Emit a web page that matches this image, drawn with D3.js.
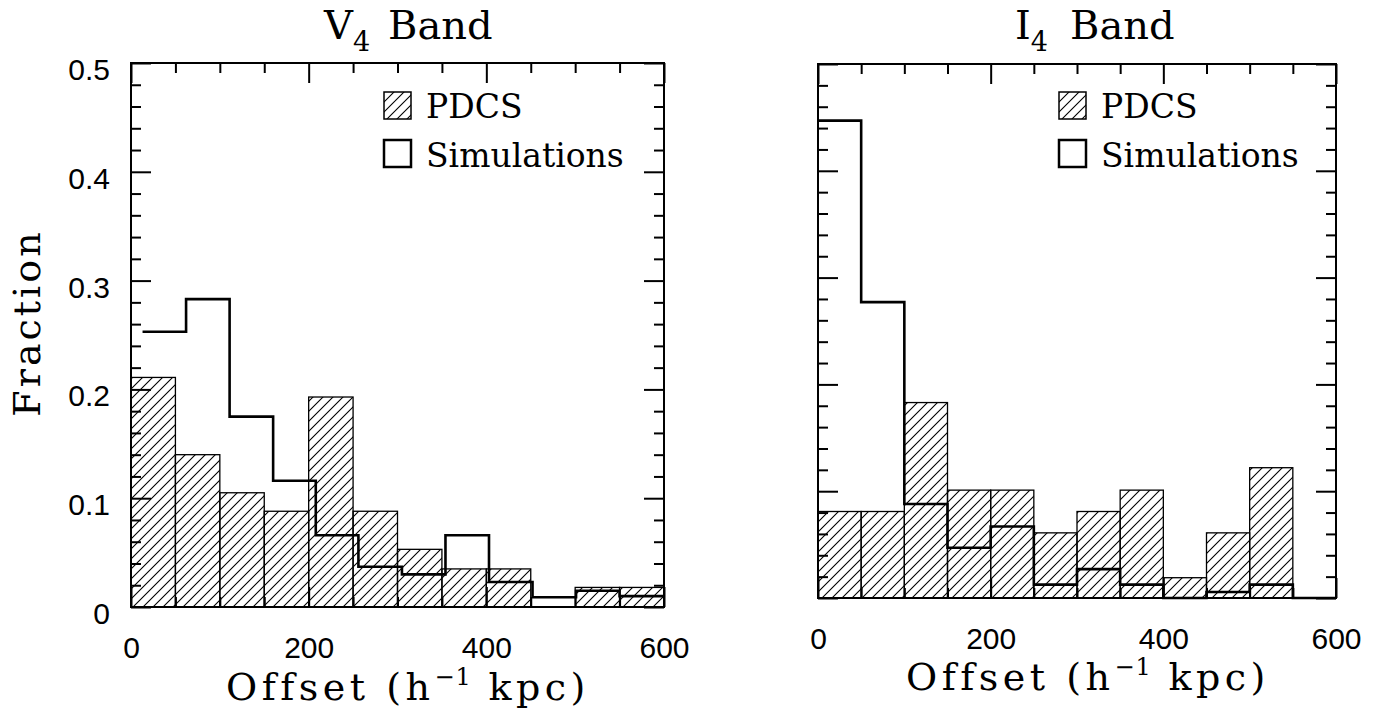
<!DOCTYPE html>
<html>
<head>
<meta charset="utf-8">
<script src="https://cdn.jsdelivr.net/npm/d3@7"></script>
<style>
  body { margin: 0; background: #fff; }
</style>
</head>
<body>
<svg width="1390" height="725"></svg>
<script>
// bin edges (h^-1 kpc)
var binEdges = [0, 50, 100, 150, 200, 250, 300, 350, 400, 450, 500, 550, 600];

// V4 band
var vPdcs = [0.211, 0.140, 0.105, 0.088, 0.193, 0.088, 0.053, 0.035, 0.035, 0, 0.018, 0.018];
var vSimEdges = [13, 62, 111, 160, 208, 256, 305, 354, 403, 452, 501, 550, 600];
var vSim = [0.253, 0.283, 0.175, 0.116, 0.066, 0.037, 0.030, 0.066, 0.023, 0.009, 0.015, 0.010];

// I4 band
var iPdcs = [0.081, 0.081, 0.183, 0.101, 0.101, 0.061, 0.081, 0.101, 0.019, 0.061, 0.122, 0];
var iSim = [0.447, 0.277, 0.088, 0.047, 0.067, 0.0125, 0.027, 0.0125, 0, 0.0056, 0.0125, 0];

var xMajor = [0, 200, 400, 600];
var xMinor = [50, 100, 150, 250, 300, 350, 450, 500, 550];
var yMajor = [0, 0.1, 0.2, 0.3, 0.4, 0.5];
var yMinor = [0.02, 0.04, 0.06, 0.08, 0.12, 0.14, 0.16, 0.18, 0.22, 0.24, 0.26, 0.28,
              0.32, 0.34, 0.36, 0.38, 0.42, 0.44, 0.46, 0.48];
var legendLabels = ["PDCS", "Simulations"];

var svg = d3.select("svg");
var serif = "'DejaVu Serif', serif";
var sans = "'Liberation Sans', Arial, sans-serif";

// hatch fill for the PDCS bars
svg.append("defs").append("pattern")
  .attr("id", "hatch")
  .attr("patternUnits", "userSpaceOnUse")
  .attr("width", 10)
  .attr("height", 10)
  .append("path")
  .attr("d", "M0,10 L10,0 M-2,2 L2,-2 M8,12 L12,8")
  .attr("stroke", "#000")
  .attr("stroke-width", 1.1);

function panel(o) {
  var x = d3.scaleLinear().domain([0, 600]).range([o.left, o.right]);
  var y = d3.scaleLinear().domain([0, 0.5]).range([o.bottom, o.top]);
  var g = svg.append("g");

  var bars = o.pdcs
    .map(function (v, i) { return { x0: binEdges[i], x1: binEdges[i + 1], v: v }; })
    .filter(function (d) { return d.v > 0; });

  g.selectAll(".pdcs")
    .data(bars)
    .enter()
    .append("rect")
    .attr("x", function (d) { return x(d.x0); })
    .attr("width", function (d) { return x(d.x1) - x(d.x0); })
    .attr("y", function (d) { return y(d.v); })
    .attr("height", function (d) { return y(0) - y(d.v); })
    .attr("fill", "url(#hatch)")
    .attr("stroke", "#000")
    .attr("stroke-width", 1.3);

  // simulations as a step line
  var pts = o.sim.map(function (v, i) { return [o.simEdges[i], v]; });
  pts.push([o.simEdges[o.sim.length], o.sim[o.sim.length - 1]]);
  var line = d3.line()
    .x(function (d) { return x(d[0]); })
    .y(function (d) { return y(d[1]); })
    .curve(d3.curveStepAfter);
  g.append("path")
    .attr("d", line(pts))
    .attr("fill", "none")
    .attr("stroke", "#000")
    .attr("stroke-width", 2.6);

  function ticks(axis, tr) {
    var a = g.append("g").attr("transform", tr).call(axis);
    a.select(".domain").remove();
    a.selectAll(".tick line").attr("stroke", "#000").attr("stroke-width", 2);
    a.attr("font-family", sans).attr("font-size", 30);
    a.selectAll("text").attr("fill", "#000");
    return a;
  }

  // bottom
  ticks(d3.axisBottom(x).tickValues(xMajor).tickSize(-20).tickPadding(30)
          .tickFormat(d3.format("d")), "translate(0," + o.bottom + ")");
  ticks(d3.axisBottom(x).tickValues(xMinor).tickSize(-10).tickFormat(""), "translate(0," + o.bottom + ")");
  // top
  ticks(d3.axisTop(x).tickValues(xMajor).tickSize(-20).tickFormat(""), "translate(0," + o.top + ")");
  ticks(d3.axisTop(x).tickValues(xMinor).tickSize(-10).tickFormat(""), "translate(0," + o.top + ")");
  // left
  var yl = ticks(d3.axisLeft(y).tickValues(yMajor).tickSize(-20).tickPadding(21)
          .tickFormat(o.yLabels ? function (d) { return d === 0 ? "0" : d3.format(".1f")(d); } : ""),
          "translate(" + o.left + ",0)");
  yl.selectAll("text").attr("dy", "0.55em");
  ticks(d3.axisLeft(y).tickValues(yMinor).tickSize(-10).tickFormat(""), "translate(" + o.left + ",0)");
  // right
  ticks(d3.axisRight(y).tickValues(yMajor).tickSize(-20).tickFormat(""), "translate(" + o.right + ",0)");
  ticks(d3.axisRight(y).tickValues(yMinor).tickSize(-10).tickFormat(""), "translate(" + o.right + ",0)");

  // frame
  g.append("rect")
    .attr("x", o.left).attr("y", o.top)
    .attr("width", o.right - o.left).attr("height", o.bottom - o.top)
    .attr("fill", "none").attr("stroke", "#000").attr("stroke-width", 2);

  // title
  var t = svg.append("text")
    .attr("x", o.titleX).attr("y", 39)
    .style("font-family", serif).attr("font-size", 40);
  t.append("tspan").text(o.band);
  t.append("tspan").attr("font-size", 27).attr("dy", 12).text("4");
  t.append("tspan").attr("dy", -12).attr("dx", o.bandGap).text("Band");

  // x label
  var xl = svg.append("text")
    .attr("x", o.xLabelX).attr("y", o.xLabelY)
    .attr("text-anchor", "middle")
    .style("font-family", serif).attr("font-size", 38)
    .attr("letter-spacing", 4.5);
  xl.append("tspan").text("Offset (h");
  xl.append("tspan").attr("font-size", 24).attr("dy", -15).attr("letter-spacing", 1).text("\u22121");
  xl.append("tspan").attr("dy", 15).text(" kpc)");

  // legend
  var lg = svg.append("g").attr("transform", "translate(" + o.legX + ",92)");
  lg.append("rect").attr("width", 27).attr("height", 27)
    .attr("fill", "url(#hatch)").attr("stroke", "#000").attr("stroke-width", 1.5);
  lg.append("rect").attr("y", 48).attr("width", 27).attr("height", 27)
    .attr("fill", "none").attr("stroke", "#000").attr("stroke-width", 2.5);
  lg.selectAll("text")
    .data(legendLabels)
    .enter()
    .append("text")
    .attr("x", 42)
    .attr("y", function (d, i) { return 26 + i * 49; })
    .style("font-family", serif).attr("font-size", 33)
    .text(function (d) { return d; });
}

panel({ left: 131, right: 664, top: 63, bottom: 607, pdcs: vPdcs, sim: vSim, simEdges: vSimEdges,
        yLabels: true, band: "V", titleX: 324, bandGap: 18, xLabelX: 408, xLabelY: 700, legX: 384 });
panel({ left: 818, right: 1336, top: 64, bottom: 598, pdcs: iPdcs, sim: iSim, simEdges: binEdges,
        yLabels: false, band: "I", titleX: 1015, bandGap: 22, xLabelX: 1088, xLabelY: 690, legX: 1059 });

// y label
svg.append("text")
  .attr("transform", "translate(40,323) rotate(-90)")
  .attr("text-anchor", "middle")
  .style("font-family", serif).attr("font-size", 38)
  .attr("letter-spacing", 3)
  .text("Fraction");
</script>
</body>
</html>
